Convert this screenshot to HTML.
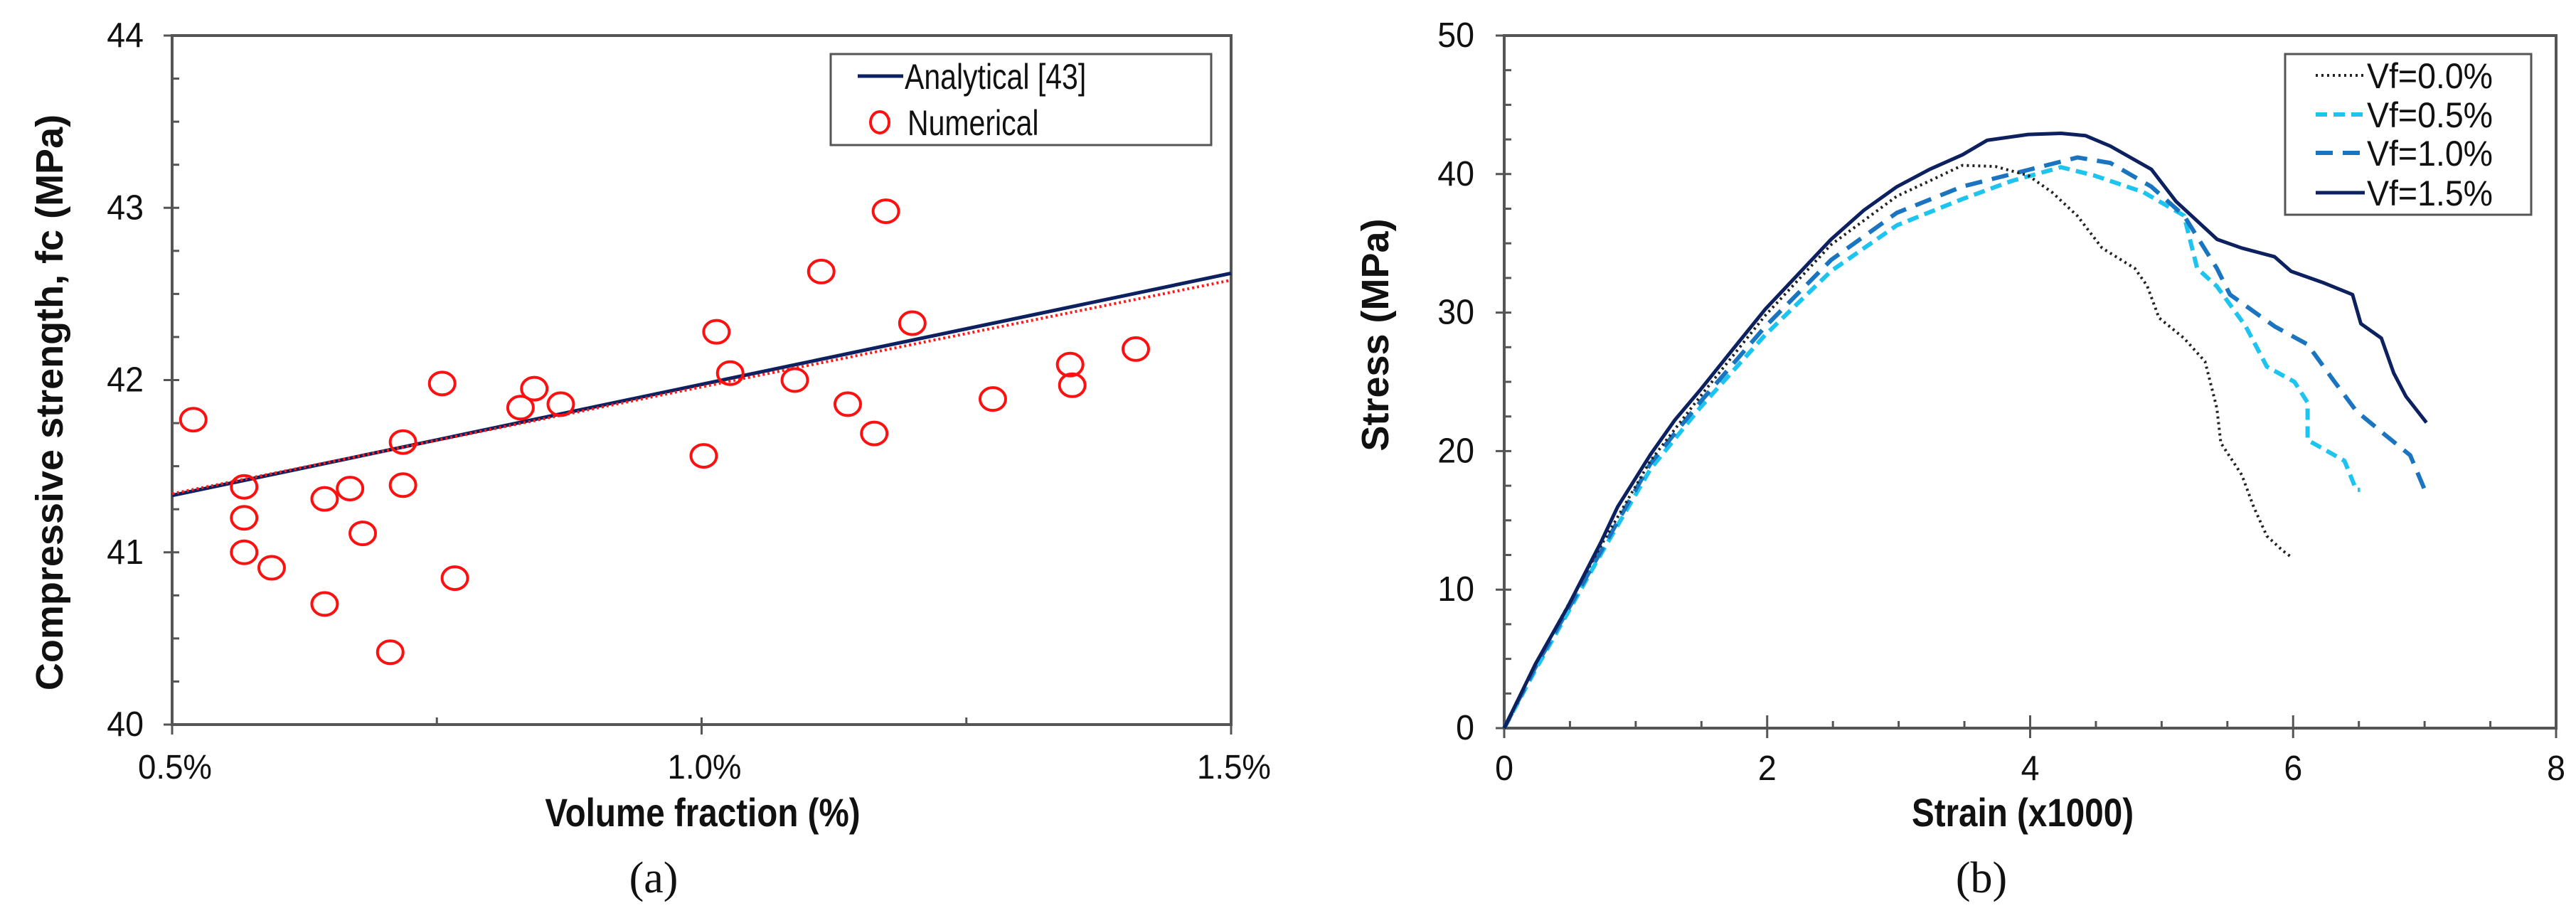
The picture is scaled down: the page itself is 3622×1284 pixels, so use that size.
<!DOCTYPE html>
<html><head><meta charset="utf-8"><style>
html,body{margin:0;padding:0;background:#fff}
svg{display:block}
text{font-family:"Liberation Sans",sans-serif;fill:#111}
</style></head><body>
<svg id="fig" width="3622" height="1284" viewBox="0 0 3622 1284" xmlns="http://www.w3.org/2000/svg">
<g id="chartA"></g>
<g id="chartB"></g>
</svg>
<script>
// ---- Chart (a) data ----
const aX = [0.520,0.568,0.568,0.568,0.594,0.644,0.644,0.668,0.680,0.706,0.718,0.718,0.755,0.767,0.829,0.842,0.867,1.002,1.014,1.027,1.088,1.113,1.138,1.163,1.174,1.199,1.275,1.348,1.350,1.410];
const aY = [41.77,41.38,41.20,41.00,40.91,41.31,40.70,41.37,41.11,40.42,41.64,41.39,41.98,40.85,41.84,41.95,41.86,41.56,42.28,42.04,42.00,42.63,41.86,41.69,42.98,42.33,41.89,42.09,41.97,42.18];
const analyticX = [0.5,1.5];
const analyticY = [41.33,42.62];
const trendY = [41.34,42.58];
const aXTicks = [0.5,1.0,1.5];
const aXTickLabels = ["0.5%","1.0%","1.5%"];
const aYTicks = [40,41,42,43,44];

// ---- Chart (b) data ----
const s15x=[0,0.237,0.487,0.737,0.862,1.112,1.30,1.487,1.736,1.986,2.236,2.486,2.736,2.986,3.235,3.485,3.673,3.985,4.235,4.422,4.610,4.922,5.109,5.422,5.609,5.859,5.984,6.234,6.452,6.515,6.671,6.765,6.858,7.014];
const s15y=[0,4.62,8.82,13.45,15.97,19.75,22.27,24.37,27.31,30.25,32.77,35.29,37.39,39.08,40.34,41.39,42.44,42.86,42.94,42.77,42.02,40.34,38.03,35.29,34.66,34.03,32.98,32.14,31.30,29.20,28.15,25.63,23.95,22.06];
const s00x=[0,0.237,0.737,1.112,1.487,1.986,2.486,2.986,3.235,3.485,3.735,3.985,4.17,4.36,4.547,4.797,4.89,4.98,5.17,5.33,5.42,5.45,5.61,5.70,5.80,5.92,5.98];
const s00y=[0,4.6,13.2,19.3,23.9,29.8,34.9,38.4,39.5,40.63,40.55,39.9,38.66,36.97,34.66,33.19,31.93,29.62,28.15,26.47,23.11,20.59,18.28,15.97,13.87,12.82,12.39];
const s05x=[0,0.237,0.737,1.112,1.487,1.986,2.486,2.986,3.485,3.86,4.235,4.485,4.86,5.17,5.27,5.42,5.64,5.80,6.01,6.11,6.11,6.39,6.48,6.51];
const s05y=[0,4.2,12.6,18.7,23.1,28.4,33.0,36.3,38.2,39.5,40.5,39.9,38.7,37.0,33.2,31.9,29.0,26.1,25.0,23.5,20.8,19.3,17.2,17.2];
const s10x=[0,0.237,0.737,1.112,1.487,1.986,2.486,2.986,3.485,3.985,4.36,4.61,4.92,5.17,5.42,5.52,5.86,6.11,6.30,6.48,6.67,6.89,7.01];
const s10y=[0,4.4,12.8,19.1,23.5,29.0,33.8,37.2,39.1,40.3,41.2,40.8,39.1,37.0,33.2,31.3,29.0,27.7,25.2,22.9,21.4,19.7,17.0];
const bXTicks=[0,2,4,6,8];
const bYTicks=[0,10,20,30,40,50];
const legendLabels=["Vf=0.0%","Vf=0.5%","Vf=1.0%","Vf=1.5%"];

const NS="http://www.w3.org/2000/svg";
function mk(parent,tag,attrs){const e=document.createElementNS(NS,tag);for(const k in attrs)e.setAttribute(k,attrs[k]);parent.appendChild(e);return e;}
function txt(parent,x,y,s,size,anchor,weight,sx,rot,family){
  const g=mk(parent,'g',{transform:`translate(${x},${y}) rotate(${rot||0}) scale(${sx||1},1)`});
  const t=mk(g,'text',{x:0,y:0,'font-size':size,'text-anchor':anchor||'start','font-weight':weight||'normal'});
  if(family)t.setAttribute('style','font-family:'+family);
  t.textContent=s;return t;
}

// ===== Chart A =====
const A=document.getElementById('chartA');
const aL=242,aR=1731,aT=50,aB=1019;
const ax=v=>aL+(v-0.5)/(1.0)*(aR-aL);
const ay=v=>aB-(v-40)/4*(aB-aT);
let fr=mk(A,'rect',{x:aL,y:aT,width:aR-aL,height:aB-aT,fill:'none',stroke:'#555','stroke-width':4});


for(let v=40;v<=44.001;v+=0.25){
  const major=Math.abs(v-Math.round(v))<1e-6;
  const t=mk(A,'line',{x1:major?aL-12:aL,x2:aL+10,y1:ay(v),y2:ay(v),stroke:'#555','stroke-width':3});
  
  
}
aYTicks.forEach(v=>{const t=txt(A,202,ay(v)+16,String(v),49,'end','normal',0.95);
  
  });
for(let v=0.5;v<=1.5001;v+=0.25){
  const major=Math.abs(v*2-Math.round(v*2))<1e-6;
  const t=mk(A,'line',{x1:ax(v),x2:ax(v),y1:aB-10,y2:major?aB+14:aB,stroke:'#555','stroke-width':3});
  
  
}
aXTicks.forEach((v,i)=>{const t=txt(A,ax(v)+4,1095,aXTickLabels[i],48,'middle','normal',0.95);
  
  });
let t1=txt(A,988,1162,'Volume fraction (%)',56,'middle','bold',0.85);


let t2=txt(A,88,566,'Compressive strength, fc (MPa)',54,'middle','bold',1,-90);


let t3=txt(A,919,1255,'(a)',62,'middle','normal',1,0,'"Liberation Serif",serif');


let l1=mk(A,'line',{x1:ax(analyticX[0]),y1:ay(analyticY[0]),x2:ax(analyticX[1]),y2:ay(analyticY[1]),stroke:'#0d2160','stroke-width':5});


let l2=mk(A,'line',{x1:ax(analyticX[0]),y1:ay(trendY[0]),x2:ax(analyticX[1]),y2:ay(trendY[1]),stroke:'#ff1a1a','stroke-width':4,'stroke-dasharray':'3 4'});


aX.forEach((v,i)=>{const c=mk(A,'ellipse',{cx:ax(v),cy:ay(aY[i]),rx:18,ry:16,fill:'none',stroke:'#ff1010','stroke-width':4});
  
  });
const lgA=mk(A,'g',{});


mk(lgA,'rect',{x:1168,y:76,width:535,height:128,fill:'#fff',stroke:'#555','stroke-width':3});
mk(lgA,'line',{x1:1206,x2:1270,y1:107,y2:107,stroke:'#0d2160','stroke-width':5});
txt(lgA,1272,125,'Analytical [43]',50,'start','normal',0.82);
mk(lgA,'ellipse',{cx:1237,cy:172,rx:13,ry:15,fill:'none',stroke:'#ff1010','stroke-width':4});
txt(lgA,1276,190,'Numerical',50,'start','normal',0.82);

// ===== Chart B =====
const B=document.getElementById('chartB');
const bL=2115,bR=3594,bT=50,bB=1024;
const bx=v=>bL+v/8*(bR-bL);
const by=v=>bB-v/50*(bB-bT);
let fb=mk(B,'rect',{x:bL,y:bT,width:bR-bL,height:bB-bT,fill:'none',stroke:'#555','stroke-width':4});


for(let v=0;v<=50.001;v+=2.5){
  const major=Math.abs(v/10-Math.round(v/10))<1e-6;
  const t=mk(B,'line',{x1:major?bL-12:bL,x2:bL+10,y1:by(v),y2:by(v),stroke:'#555','stroke-width':3});
  
  
}
bYTicks.forEach(v=>{const t=txt(B,2073,by(v)+16,String(v),49,'end','normal',0.95);
  
  });
for(let v=0;v<=8.001;v+=0.5){
  const major=Math.abs(v/2-Math.round(v/2))<1e-6;
  const t=mk(B,'line',{x1:bx(v),x2:bx(v),y1:major?bB-18:bB-10,y2:major?bB+14:bB,stroke:'#555','stroke-width':3});
  
  
}
bXTicks.forEach(v=>{const t=txt(B,bx(v),1097,String(v),49,'middle','normal',0.95);
  
  });
let t4=txt(B,2844,1162,'Strain (x1000)',56,'middle','bold',0.85);


let t5=txt(B,1952,471,'Stress (MPa)',54,'middle','bold',1,-90);


let t6=txt(B,2786,1255,'(b)',62,'middle','normal',1,0,'"Liberation Serif",serif');


const styles=[
  {x:s00x,y:s00y,c:'#222',w:4,d:'3 5',n:'series-vf-0-0'},
  {x:s05x,y:s05y,c:'#1ec4f0',w:6,d:'16 9',n:'series-vf-0-5'},
  {x:s10x,y:s10y,c:'#1a74c0',w:6,d:'24 14',n:'series-vf-1-0'},
  {x:s15x,y:s15y,c:'#0d2160',w:5,d:'',n:'series-vf-1-5'}];
[1,2,0,3].forEach(i=>{const s=styles[i];
  const d=s.x.map((v,j)=>(j?'L':'M')+bx(v).toFixed(1)+','+by(s.y[j]).toFixed(1)).join(' ');
  const p=mk(B,'path',{d:d,fill:'none',stroke:s.c,'stroke-width':s.w,'stroke-linejoin':'round'});
  if(s.d)p.setAttribute('stroke-dasharray',s.d);
  
  });
const lgB=mk(B,'g',{});


mk(lgB,'rect',{x:3213,y:76,width:346,height:226,fill:'#fff',stroke:'#555','stroke-width':3});
const ly=[106,161,215,271];
legendLabels.forEach((s,i)=>{const st=styles[i];
  const l=mk(lgB,'line',{x1:3256,x2:3325,y1:ly[i],y2:ly[i],stroke:st.c,'stroke-width':st.w});
  if(st.d)l.setAttribute('stroke-dasharray',st.d);
  
  
  const t=txt(lgB,3328,ly[i]+18,s,50,'start','normal',0.93);
  
  });
</script>
</body></html>
